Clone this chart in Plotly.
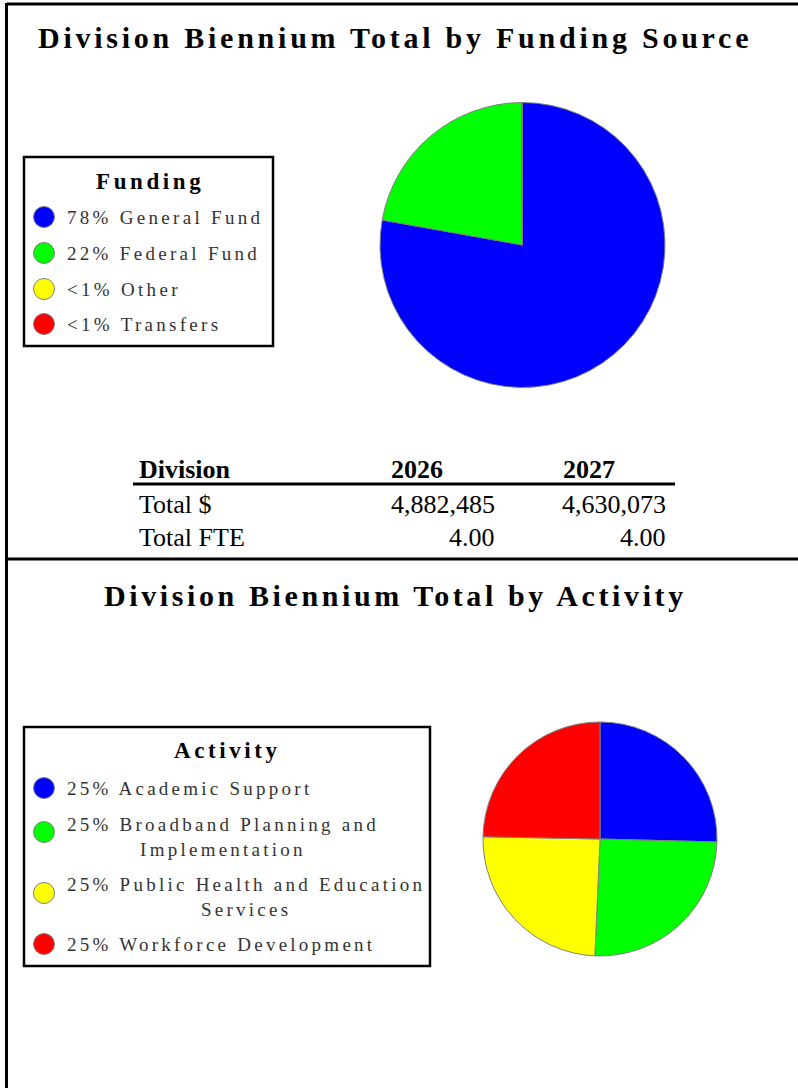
import plotly.graph_objects as go

# ---------------- data ----------------
funding_labels = ["General Fund", "Federal Fund", "Other", "Transfers"]
funding_values = [77.8, 22.1, 0.05, 0.05]
funding_pct_text = ["78%", "22%", "<1%", "<1%"]
funding_colors = ["#0000FF", "#00FF00", "#FFFF00", "#FF0000"]

activity_labels = ["Academic Support", "Broadband Planning and<br>Implementation",
                   "Public Health and Education<br>Services", "Workforce Development"]
activity_values = [25.4, 25.3, 24.6, 24.7]
activity_pct_text = ["25%", "25%", "25%", "25%"]
activity_colors = ["#0000FF", "#00FF00", "#FFFF00", "#FF0000"]

table_header = ["Division", "2026", "2027"]
table_rows = ["Total $", "Total FTE"]
table_2026 = ["4,882,485", "4.00"]
table_2027 = ["4,630,073", "4.00"]

title_top = "Division Biennium Total by Funding Source"
title_bottom = "Division Biennium Total by Activity"

# ---------------- layout helpers ----------------
W, H = 798, 1088
SERIF = "Liberation Serif"


def px(x):
    return x / W


def py(y):
    return 1 - y / H


def spaced(text, ls):
    lines = text.split("<br>")
    return "<br>".join(f'<span style="letter-spacing:{ls}px">{ln}</span>' for ln in lines)


fig = go.Figure()

fig.add_trace(go.Pie(
    labels=funding_labels, values=funding_values, sort=False, direction="clockwise",
    marker=dict(colors=funding_colors, line=dict(color="#808080", width=1)),
    textinfo="none", hoverinfo="label+percent", showlegend=False,
    domain=dict(x=[px(380), px(665)], y=[py(388), py(102)]),
))

fig.add_trace(go.Pie(
    labels=activity_labels, values=activity_values, sort=False, direction="clockwise",
    marker=dict(colors=activity_colors, line=dict(color="#808080", width=1)),
    textinfo="none", hoverinfo="label+percent", showlegend=False,
    domain=dict(x=[px(483), px(717)], y=[py(956), py(722)]),
))

shapes = []
ann = []


def line(x0, y0, x1, y1, w=3):
    shapes.append(dict(type="line", xref="paper", yref="paper",
                       x0=px(x0), y0=py(y0), x1=px(x1), y1=py(y1),
                       line=dict(color="black", width=w)))


def rect(x0, y0, x1, y1, w=2.5):
    shapes.append(dict(type="rect", xref="paper", yref="paper",
                       x0=px(x0), y0=py(y0), x1=px(x1), y1=py(y1),
                       line=dict(color="black", width=w), fillcolor="rgba(0,0,0,0)"))


def circle(cx, cy, r, color):
    shapes.append(dict(type="circle", xref="paper", yref="paper",
                       x0=px(cx - r), x1=px(cx + r), y0=py(cy + r), y1=py(cy - r),
                       line=dict(color="#808080", width=1), fillcolor=color))


def text(x, y, t, size, color="black", xanchor="left", align="left", bold=False):
    if bold:
        t = f"<b>{t}</b>"
    ann.append(dict(xref="paper", yref="paper", x=px(x), y=py(y), text=t,
                    showarrow=False, xanchor=xanchor, yanchor="middle", align=align,
                    font=dict(family=SERIF, size=size, color=color)))


# page borders
line(7, 4, 798, 4, 3)
line(6.5, 3, 6.5, 1088, 3)
line(6, 559, 798, 559, 3)

# titles
text(395, 37, spaced(title_top, 3.75), 30, xanchor="center", align="center", bold=True)
text(395, 595, spaced(title_bottom, 3.6), 30, xanchor="center", align="center", bold=True)

# funding legend
rect(24, 157, 273, 346)
text(150, 182, spaced("Funding", 3.6), 23, xanchor="center", align="center", bold=True)
fund_y = [217, 253, 289, 324]
for lab, pct, col, yy in zip(funding_labels, funding_pct_text, funding_colors, fund_y):
    circle(44, yy, 10.5, col)
    text(65, yy, spaced(f"{pct} {lab}".replace("<1%", "&lt;1%"), 3.3), 19, color="#333333")

# activity legend
rect(24, 727, 430, 966)
text(227, 750, spaced("Activity", 3.6), 23, xanchor="center", align="center", bold=True)
act_circle_y = [788, 832, 893, 944]
act_text_y = [788, 837, 897, 944]
for lab, pct, col, cy, ty in zip(activity_labels, activity_pct_text, activity_colors,
                                 act_circle_y, act_text_y):
    circle(44, cy, 10.5, col)
    text(65, ty, spaced(f"{pct} {lab}", 3.25), 19, color="#333333", align="center")

# table
line(133, 484, 675, 484, 3)
text(137, 469, table_header[0], 26, bold=True)
text(389, 469, table_header[1], 26, bold=True)
text(561, 469, table_header[2], 26, bold=True)
row_y = [505, 537]
for lab, v1, v2, yy in zip(table_rows, table_2026, table_2027, row_y):
    text(137, yy, lab, 26)
    text(497, yy, v1, 26, xanchor="right")
    text(668, yy, v2, 26, xanchor="right")

fig.update_layout(
    width=W, height=H, margin=dict(l=0, r=0, t=0, b=0),
    paper_bgcolor="white", plot_bgcolor="white",
    shapes=shapes, annotations=ann, showlegend=False,
)

fig.write_html("out.html", config={"displayModeBar": False},
               post_script="document.body.style.margin='0';")
